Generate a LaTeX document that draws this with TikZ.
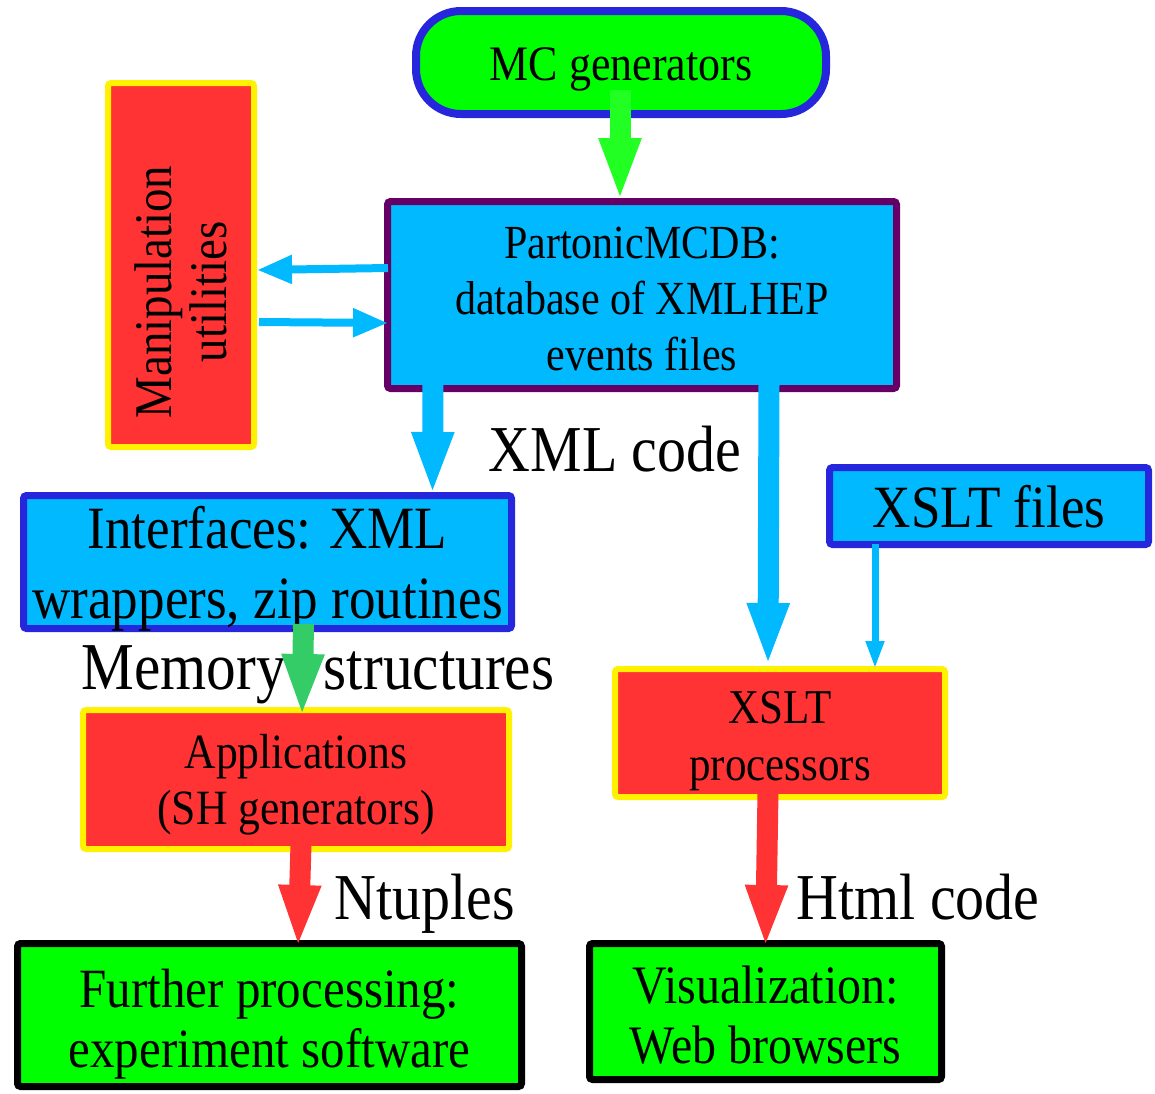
\documentclass[tikz,border=0pt]{standalone}
\usepackage{fontspec}
\setmainfont[FakeStretch=0.885]{Liberation Serif}
\usetikzlibrary{arrows.meta}
\definecolor{skyblue}{HTML}{00B9FF}
\definecolor{boxblue}{HTML}{2626DD}
\definecolor{boxpurple}{HTML}{660066}
\definecolor{boxred}{HTML}{FF3333}
\definecolor{boxgreen}{HTML}{00FF00}
\definecolor{arrowgreen}{HTML}{22FF22}
\definecolor{darkgreen}{HTML}{33CC66}
\tikzset{
    box/.style={draw, line width=7pt, rounded corners=3pt, inner sep=0pt},
    bluebox/.style={box, draw=boxblue, fill=skyblue},
    redbox/.style={box, draw=yellow, fill=boxred, line width=6pt},
    greenbox/.style={box, draw=black, fill=boxgreen},
    boxtext/.style={align=center, inner sep=0pt},
    lbl/.style={anchor=base, inner sep=0pt, font=\fontsize{65.5}{70}\selectfont},
    bigarrow/.style={line width=21pt, -{Triangle[length=63pt,width=38pt]}},
    thinarrow/.style={line width=8pt, -{Triangle[length=35pt,width=27pt]}},
}
\begin{document}
\begin{tikzpicture}[x=1pt,y=-1pt]
        \useasboundingbox (0,0) rectangle (1155,1093);
        % boxes
        \node[bluebox, line width=8pt, fill=boxgreen, rounded corners=45pt, minimum width=410pt, minimum height=103pt] (mc) at (621,62.5) {};
        \node[box, draw=boxpurple, fill=skyblue, minimum width=509pt, minimum height=187pt] (pmc) at (642,295) {};
        \node[redbox, minimum width=146pt, minimum height=364pt] (manip) at (181,265) {};
        \node[bluebox, minimum width=488pt, minimum height=133pt] (intf) at (267.5,562) {};
        \node[bluebox, minimum width=319pt, minimum height=77pt] (xsltfiles) at (989,506) {};
        \node[redbox, minimum width=330pt, minimum height=128pt] (xsltproc) at (780,733) {};
        \node[redbox, minimum width=426pt, minimum height=139pt] (apps) at (296,779.5) {};
        \node[greenbox, minimum width=504pt, minimum height=143pt] (further) at (269.5,1015) {};
        \node[greenbox, minimum width=352pt, minimum height=136pt] (visual) at (765.5,1011.5) {};
        % box texts
        \node[boxtext, font=\fontsize{49.7}{56}\selectfont] (mctext) at ([yshift=-7pt]mc.center) {MC generators};
        \node[boxtext, font=\fontsize{47.5}{56}\selectfont] (pmctext) at ([yshift=-4pt]pmc.center) {PartonicMCDB:\\database of XMLHEP\\events files};
        \node[boxtext, rotate=90, font=\fontsize{53}{55}\selectfont] (maniptext) at ([yshift=-27pt]manip.center) {Manipulation\\utilities};
        \node[boxtext, font=\fontsize{60}{70}\selectfont] (intftext) at ([yshift=-7pt]intf.center) {Interfaces: XML\\wrappers, zip routines};
        \node[boxtext, font=\fontsize{60}{66}\selectfont] (xsltfilestext) at ([yshift=-1pt]xsltfiles.center) {XSLT files};
        \node[boxtext, font=\fontsize{48.6}{57}\selectfont] (xsltproctext) at ([yshift=-8pt]xsltproc.center) {XSLT\\processors};
        \node[boxtext, font=\fontsize{49.3}{56}\selectfont] (appstext) at ([yshift=-5pt]apps.center) {Applications\\(SH generators)};
        \node[boxtext, font=\fontsize{55.4}{60}\selectfont] (furthertext) at ([yshift=-9pt]further.center) {Further processing:\\experiment software};
        \node[boxtext, font=\fontsize{54.2}{60}\selectfont] (visualtext) at ([yshift=-4pt]visual.center) {Visualization:\\Web browsers};
        % labels
        \node[lbl] (xmlcode) at (615,471) {XML code};
        \node[lbl, font=\fontsize{67}{70}\selectfont] (memory) at (318,689) {Memory\hspace{38pt}structures};
        \node[lbl] (ntuples) at (425,919) {Ntuples};
        \node[lbl] (htmlcode) at (918,919) {Html code};
        % arrows
        \draw[bigarrow, arrowgreen] ([xshift=-1pt,yshift=28pt]mc.south) -- ([xshift=-22pt,yshift=-3pt]pmc.north);
        \draw[thinarrow, skyblue] ([xshift=4pt,yshift=27pt]pmc.west) -- ([yshift=-5pt]manip.east);
        \draw[thinarrow, skyblue] ([xshift=2pt,yshift=-57pt]manip.east) -- ([xshift=4pt,yshift=-28pt]pmc.west);
        \draw[bigarrow, skyblue] ([xshift=-209pt,yshift=10pt]pmc.south) -- ([xshift=165pt,yshift=-3pt]intf.north);
        \draw[bigarrow, skyblue] ([xshift=127pt,yshift=10pt]pmc.south) -- ([xshift=-12pt]xsltproc.north);
        \draw[skyblue, line width=7pt, -{Triangle[length=28pt,width=17pt]}] ([xshift=-114pt,yshift=4pt]xsltfiles.south) -- ([xshift=95pt,yshift=-3pt]xsltproc.north);
        \draw[bigarrow, darkgreen] ([xshift=36pt,yshift=8pt]intf.south) -- ([xshift=6pt,yshift=-10pt]apps.north);
        \draw[bigarrow, boxred] ([xshift=5pt,yshift=8pt]apps.south) -- ([xshift=28.5pt,yshift=-8pt]further.north);
        \draw[bigarrow, boxred] ([xshift=-12pt,yshift=8pt]xsltproc.south) -- ([yshift=-8pt]visual.north);
\end{tikzpicture}
\end{document}
